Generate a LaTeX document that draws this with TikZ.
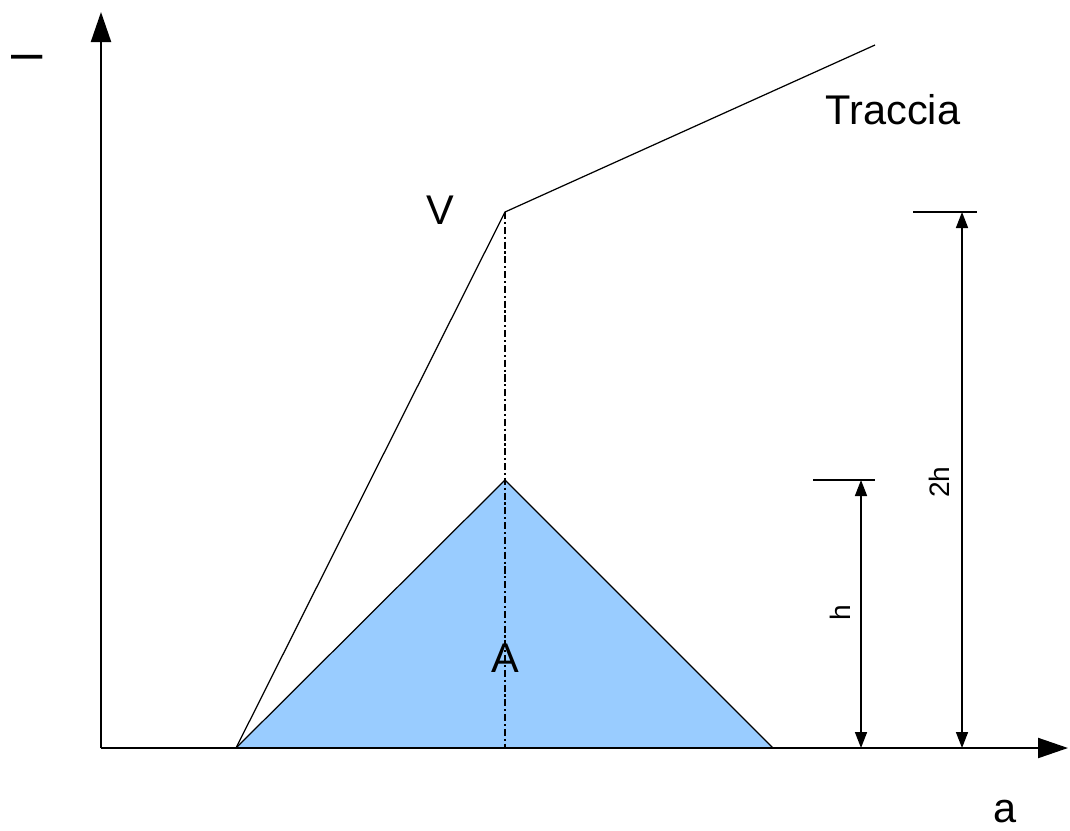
\documentclass[tikz,border=0pt]{standalone}
\usepackage{fontspec}
\setmainfont{Liberation Sans}
\usetikzlibrary{arrows.meta}
\definecolor{fillblue}{HTML}{99CCFF}
\begin{document}
\begin{tikzpicture}[x=0.01cm,y=-0.01cm,
  thinline/.style={line width=0.35pt},
  axisline/.style={line width=0.6pt,-{Triangle[length=3mm,width=2mm]}},
  dimarrow/.style={line width=0.45pt,{Triangle[length=1.6mm,width=1.2mm]}-{Triangle[length=1.6mm,width=1.2mm]}},
  dashdot/.style={line width=0.5pt,dash pattern=on 2pt off 0.8pt on 0.6pt off 0.8pt},
  lbl/.style={font=\fontsize{11.8}{13}\selectfont,inner sep=0pt},
  smalllbl/.style={font=\fontsize{8}{9}\selectfont,inner sep=0pt,rotate=90}]
\useasboundingbox (0,0) rectangle (1070,830);
% points
\coordinate (O) at (101,748);
\coordinate (Ytop) at (101,12);
\coordinate (Xend) at (1068,748);
\coordinate (P1) at (236,748);
\coordinate (P2) at (773,748);
\coordinate (T) at (505,480);
\coordinate (V) at (505,212);
\coordinate (E) at (875,45);
\coordinate (B) at (505,748);
\coordinate (Hl) at (813,480);
\coordinate (Hr) at (875,480);
\coordinate (Ht) at (861,480);
\coordinate (Hb) at (861,748);
\coordinate (Kl) at (913,212);
\coordinate (Kr) at (977,212);
\coordinate (Kt) at (962,212);
\coordinate (Kb) at (962,748);
% triangle
\filldraw[fill=fillblue,draw=black,thinline] (P1) -- (T) -- (P2) -- cycle;
% trace
\draw[thinline] (P1) -- (V) -- (E);
% dash-dot vertical
\draw[dashdot] (V) -- (B);
% axes
\draw[axisline] (O) -- (Ytop);
\draw[axisline] (O) -- (Xend);
% dimension h
\draw[line width=0.5pt] (Hl) -- (Hr);
\draw[dimarrow] (Ht) -- (Hb);
% dimension 2h
\draw[line width=0.5pt] (Kl) -- (Kr);
\draw[dimarrow] (Kt) -- (Kb);
% labels
\node[inner sep=0pt,font=\fontsize{16}{16}\selectfont] (dash) at (27,63) {–};
\node[lbl] (lV) at (440,210) {V};
\node[lbl] (lA) at (505,658) {A};
\node[lbl] (ltr) at (893,110) {Traccia};
\node[lbl] (la) at (1005,812) {a};
\node[smalllbl] (lh) at (840,613) {h};
\node[smalllbl] (l2h) at (939,482) {2h};
\end{tikzpicture}
\end{document}
